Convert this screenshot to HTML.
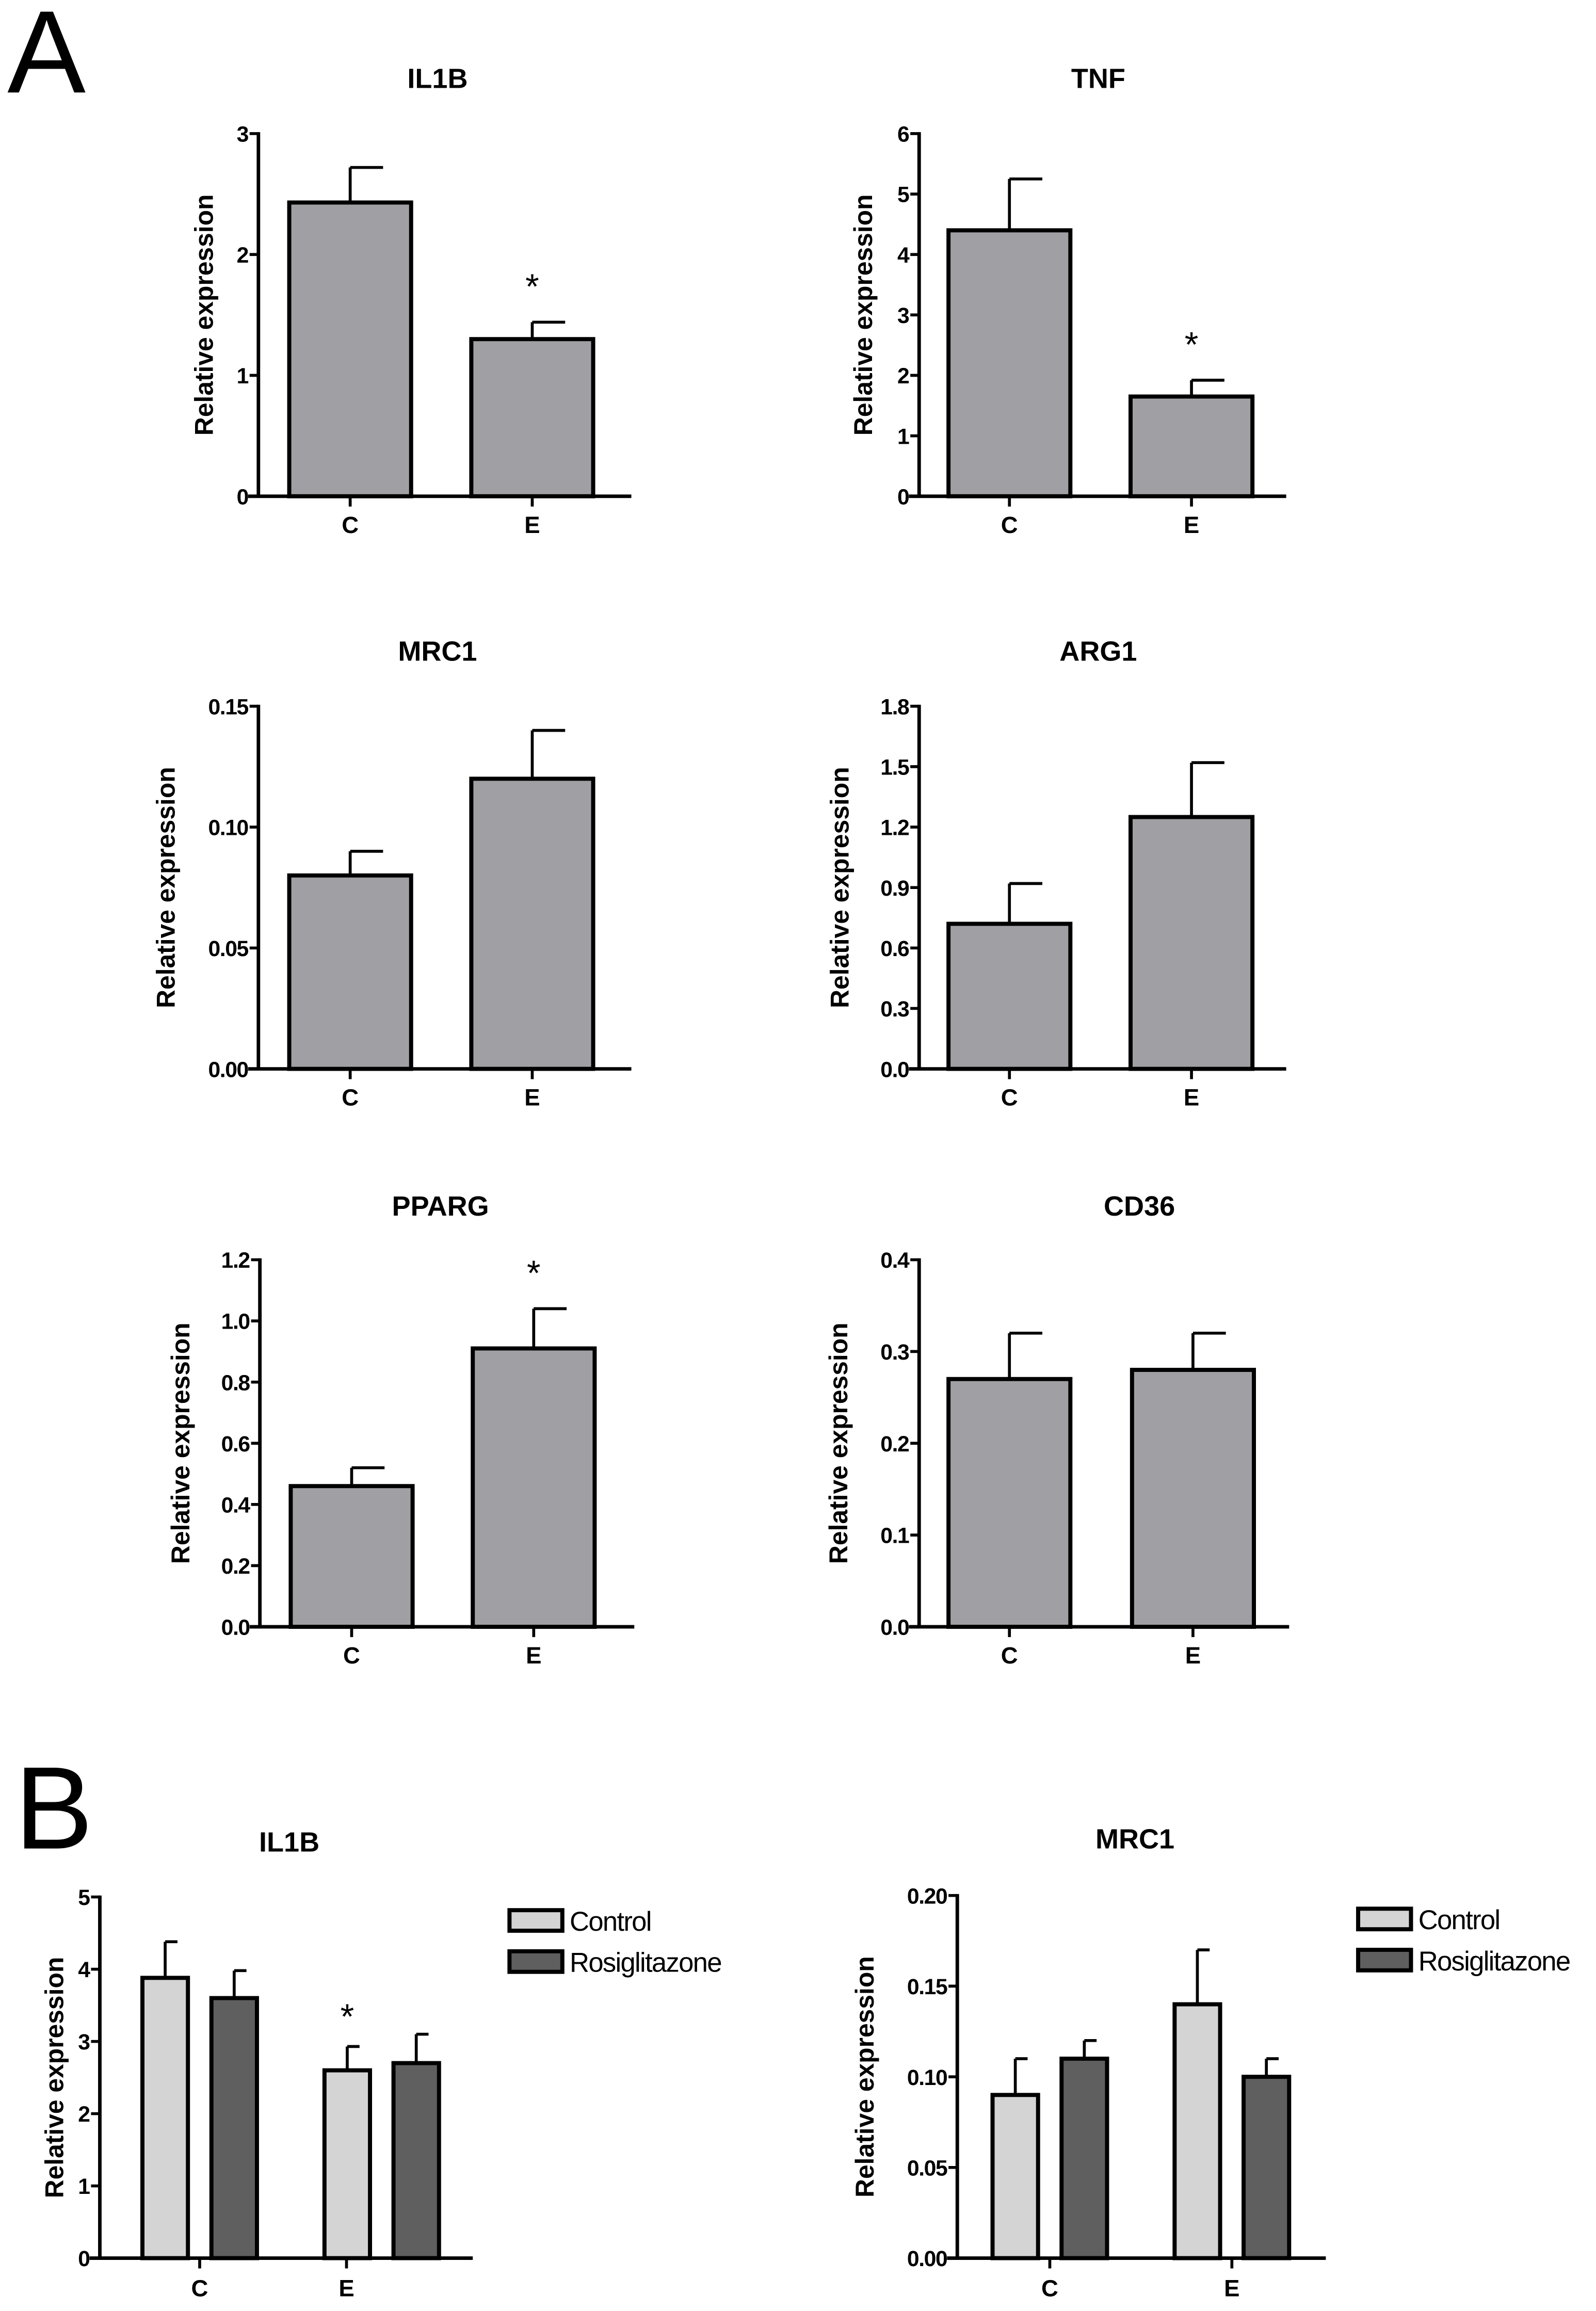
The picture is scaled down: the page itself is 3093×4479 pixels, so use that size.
<!DOCTYPE html>
<html><head><meta charset="utf-8"><style>
html,body{margin:0;padding:0;background:#fff;}
svg{display:block;font-family:"Liberation Sans",Arial,sans-serif;}
</style></head><body>
<svg id="fig" width="3093" height="4479" viewBox="0 0 1087 1574" preserveAspectRatio="none" xmlns="http://www.w3.org/2000/svg">
<text x="5" y="63" font-size="80">A</text>
<text x="10" y="1259" font-size="80">B</text>
</svg>
<script>
const categories = ["C", "E"];
const il1bA = [2.43, 1.30], il1bAErr = [0.29, 0.14], il1bATicks = ["0","1","2","3"];
const tnfA = [4.40, 1.65], tnfAErr = [0.85, 0.27], tnfATicks = ["0","1","2","3","4","5","6"];
const mrc1A = [0.080, 0.120], mrc1AErr = [0.010, 0.020], mrc1ATicks = ["0.00","0.05","0.10","0.15"];
const arg1A = [0.72, 1.25], arg1AErr = [0.20, 0.27], arg1ATicks = ["0.0","0.3","0.6","0.9","1.2","1.5","1.8"];
const ppargA = [0.46, 0.91], ppargAErr = [0.06, 0.13], ppargATicks = ["0.0","0.2","0.4","0.6","0.8","1.0","1.2"];
const cd36A = [0.27, 0.28], cd36AErr = [0.05, 0.04], cd36ATicks = ["0.0","0.1","0.2","0.3","0.4"];
const seriesNames = ["Control", "Rosiglitazone"];
const il1bBControl = [3.88, 2.60], il1bBControlErr = [0.50, 0.33];
const il1bBRosi = [3.60, 2.70], il1bBRosiErr = [0.38, 0.40];
const il1bBTicks = ["0","1","2","3","4","5"];
const mrc1BControl = [0.090, 0.140], mrc1BControlErr = [0.020, 0.030];
const mrc1BRosi = [0.110, 0.100], mrc1BRosiErr = [0.010, 0.010];
const mrc1BTicks = ["0.00","0.05","0.10","0.15","0.20"];

const svg = document.getElementById('fig');
const NS = 'http://www.w3.org/2000/svg';
function mk(tag, attrs, parent){
  const e = document.createElementNS(NS, tag);
  for (const k in attrs) e.setAttribute(k, attrs[k]);
  (parent||svg).appendChild(e);
  return e;
}

function axes(g, cfg){
  const ticks = cfg.ticks, max = parseFloat(ticks[ticks.length-1]);
  const y = v => cfg.y0 - (v/max)*(cfg.y0-cfg.yTop);
  const yl = mk('line',{x1:cfg.ax,y1:cfg.yTop-1,x2:cfg.ax,y2:cfg.y0,stroke:'#000','stroke-width':2.4},g);
  
  
  const xl = mk('line',{x1:cfg.ax-7,y1:cfg.y0,x2:cfg.xEnd,y2:cfg.y0,stroke:'#000','stroke-width':2.4},g);
  
  
  ticks.forEach(t=>{
    const v = parseFloat(t), yy = y(v);
    mk('line',{x1:cfg.ax-6,y1:yy,x2:cfg.ax,y2:yy,stroke:'#000','stroke-width':2},g);
    const tl = mk('text',{x:cfg.ax-7,y:yy+5.5,'font-size':15,'font-weight':'bold','text-anchor':'end','letter-spacing':'-0.5'},g);
    tl.textContent = t;
    
    
  });
  const title = mk('text',{x:cfg.tx,y:cfg.ty,'font-size':19,'font-weight':'bold','text-anchor':'middle'},g);
  title.textContent = cfg.title;
  
  
  const yc = (cfg.y0+cfg.yTop)/2;
  const ylab = mk('text',{x:cfg.lx,y:yc,'font-size':17.5,'font-weight':'bold','text-anchor':'middle',transform:`rotate(-90 ${cfg.lx} ${yc})`},g);
  ylab.textContent = 'Relative expression';
  
  
  return y;
}

function bar(g, x0, x1, v, err, y, y0, fill){
  const top = y(v), cx=(x0+x1)/2, et = y(v+err), cap=(x1-x0)*0.27;
  mk('line',{x1:cx,y1:top,x2:cx,y2:et,stroke:'#000','stroke-width':2},g);
  mk('line',{x1:cx,y1:et,x2:cx+cap,y2:et,stroke:'#000','stroke-width':2},g);
  const r = mk('rect',{x:x0,y:top,width:x1-x0,height:y0-top,fill:fill,stroke:'#000','stroke-width':2.8},g);
  
  
  return et;
}

function chartA(cfg, vals, errs, stars){
  const g = mk('g',{});
  
  
  const y = axes(g, cfg);
  categories.forEach((c,i)=>{
    const x0 = cfg.bx[i], x1 = x0+83, cx=(x0+x1)/2;
    const et = bar(g, x0, x1, vals[i], errs[i], y, cfg.y0, '#a0a0a4');
    mk('line',{x1:cx,y1:cfg.y0,x2:cx,y2:cfg.y0+7,stroke:'#000','stroke-width':2},g);
    const cl = mk('text',{x:cx,y:cfg.y0+25,'font-size':16,'font-weight':'bold','text-anchor':'middle'},g);
    cl.textContent = c;
    
    
    if (stars[i]){
      const s = mk('text',{x:cx,y:et-16,'font-size':24,'text-anchor':'middle'},g);
      s.textContent='*';
      
      
    }
  });
}

chartA({title:'IL1B',ticks:il1bATicks,ax:176,y0:338,yTop:91,xEnd:430,tx:298,ty:60,lx:145,bx:[197,321]}, il1bA, il1bAErr, [0,1]);
chartA({title:'TNF',ticks:tnfATicks,ax:626,y0:338,yTop:91,xEnd:876,tx:748,ty:60,lx:594,bx:[646,770]}, tnfA, tnfAErr, [0,1]);
chartA({title:'MRC1',ticks:mrc1ATicks,ax:176,y0:728,yTop:481,xEnd:430,tx:298,ty:450,lx:119,bx:[197,321]}, mrc1A, mrc1AErr, [0,0]);
chartA({title:'ARG1',ticks:arg1ATicks,ax:626,y0:728,yTop:481,xEnd:876,tx:748,ty:450,lx:578,bx:[646,770]}, arg1A, arg1AErr, [0,0]);
chartA({title:'PPARG',ticks:ppargATicks,ax:177,y0:1108,yTop:858,xEnd:432,tx:300,ty:828,lx:129,bx:[198,322]}, ppargA, ppargAErr, [0,1]);
chartA({title:'CD36',ticks:cd36ATicks,ax:626,y0:1108,yTop:858,xEnd:878,tx:776,ty:828,lx:577,bx:[646,771]}, cd36A, cd36AErr, [0,0]);

function chartB(cfg, ctl, ctlErr, ros, rosErr, stars){
  const g = mk('g',{});
  
  
  const y = axes(g, cfg);
  categories.forEach((c,i)=>{
    const x0 = cfg.gx[i];
    const et = bar(g, x0, x0+31, ctl[i], ctlErr[i], y, cfg.y0, '#d4d4d4');
    bar(g, x0+47, x0+78, ros[i], rosErr[i], y, cfg.y0, '#5f5f5f');
    const cx = cfg.tk[i];
    mk('line',{x1:cx,y1:cfg.y0,x2:cx,y2:cfg.y0+7,stroke:'#000','stroke-width':2},g);
    const cl = mk('text',{x:cx,y:cfg.y0+26,'font-size':16,'font-weight':'bold','text-anchor':'middle'},g);
    cl.textContent = c;
    
    
    if (stars[i]){
      const s = mk('text',{x:x0+15.5,y:et-12,'font-size':24,'text-anchor':'middle'},g);
      s.textContent='*';
      
      
    }
  });
  const fills=['#d4d4d4','#5f5f5f'];
  seriesNames.forEach((n,i)=>{
    const ly = cfg.ly + i*28;
    const r = mk('rect',{x:cfg.lgx,y:ly,width:36,height:14,fill:fills[i],stroke:'#000','stroke-width':2.8},g);
    
    
    const t = mk('text',{x:cfg.lgx+41,y:ly+14,'font-size':18.5,'letter-spacing':'-0.6'},g);
    t.textContent = n;
    
    
  });
}

chartB({title:'IL1B',ticks:il1bBTicks,ax:68,y0:1538,yTop:1292,xEnd:322,tx:197,ty:1261,lx:43,gx:[97,221],tk:[136,236],lgx:347,ly:1301}, il1bBControl, il1bBControlErr, il1bBRosi, il1bBRosiErr, [0,1]);
chartB({title:'MRC1',ticks:mrc1BTicks,ax:652,y0:1538,yTop:1291,xEnd:903,tx:773,ty:1259,lx:595,gx:[676,800],tk:[715,839],lgx:925,ly:1300}, mrc1BControl, mrc1BControlErr, mrc1BRosi, mrc1BRosiErr, [0,0]);
</script>
</body></html>
